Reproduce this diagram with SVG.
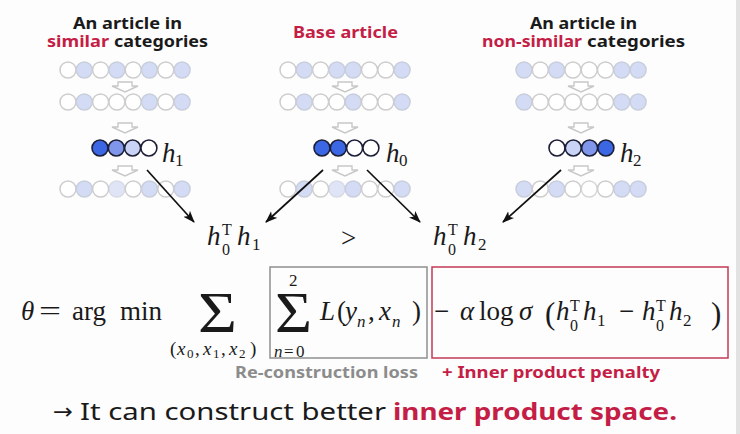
<svg xmlns="http://www.w3.org/2000/svg" width="740" height="434" viewBox="0 0 740 434">
<style>
.ttl{font-family:"Noto Sans","DejaVu Sans",sans-serif;font-weight:bold;font-size:16px;fill:#1a1a1a}
.m{font-family:"Liberation Serif","DejaVu Serif",serif;font-size:27px;fill:#1a1a1a}
.i{font-style:italic}
.s{font-size:17px}
.s2{font-size:19px}
.ss{font-size:13px}
.sm{font-size:16px}
.big{font-size:56px}
.par{font-size:31px}
.hl1{font-size:27px}
.c0{fill:#ffffff;stroke:#cdcdcd;stroke-width:1.5}
.c1{fill:#d3dbf5;stroke:#c9cedc;stroke-width:1.5}
.hd{fill:#3b66e4;stroke:#1c1f36;stroke-width:1.6}
.hm{fill:#7f96ea;stroke:#1c1f36;stroke-width:1.6}
.hl{fill:#c9d3f5;stroke:#1c1f36;stroke-width:1.6}
.hw{fill:#ffffff;stroke:#1c1f36;stroke-width:1.6}
.da{fill:#ffffff;stroke:#c8c8c8;stroke-width:1.4}
.con{stroke:#111;stroke-width:1.7;fill:none;marker-end:url(#ah)}
.bt{font-family:"Noto Sans","Open Sans",sans-serif;font-size:24px;fill:#1a1a1a}
.arr{font-family:"DejaVu Sans",sans-serif;font-size:22px}
.b{font-weight:bold}
.red{fill:#c41e46}
.gry{fill:#8c8c8c}
</style>
<defs>
<marker id="ah" viewBox="0 0 12 10" refX="11" refY="5" markerWidth="12" markerHeight="10" markerUnits="userSpaceOnUse" orient="auto">
<path d="M0,0.5 L12,5 L0,9.5 L3,5 z" fill="#111"/>
</marker>
<path id="darr" class="da" d="M-7,0 h14 v4 h6 l-13,6 l-13,-6 h6 z"/>
</defs>
<rect x="0" y="0" width="740" height="434" fill="#fdfdfd"/>
<rect x="736" y="0" width="4" height="434" fill="#e2e2e2"/>

<g id="title-similar">
<text class="ttl" x="73" y="29" textLength="109" lengthAdjust="spacingAndGlyphs">An article in</text>
<text class="ttl red" x="47" y="47" textLength="62" lengthAdjust="spacingAndGlyphs">similar</text>
<text class="ttl" x="114" y="47" textLength="94" lengthAdjust="spacingAndGlyphs">categories</text>
</g>
<g id="title-base">
<text class="ttl red" x="293" y="38" textLength="105" lengthAdjust="spacingAndGlyphs">Base article</text>
</g>
<g id="title-nonsimilar">
<text class="ttl" x="530" y="29" textLength="107" lengthAdjust="spacingAndGlyphs">An article in</text>
<text class="ttl red" x="482" y="47" textLength="100" lengthAdjust="spacingAndGlyphs">non-similar</text>
<text class="ttl" x="587" y="47" textLength="98" lengthAdjust="spacingAndGlyphs">categories</text>
</g>

<g id="net-similar">
<g>
<circle class="c0" cx="68" cy="70" r="8"/><circle class="c1" cx="84.3" cy="70" r="8"/><circle class="c0" cx="100.6" cy="70" r="8"/><circle class="c1" cx="116.9" cy="70" r="8"/><circle class="c0" cx="133.2" cy="70" r="8"/><circle class="c1" cx="149.5" cy="70" r="8"/><circle class="c0" cx="165.8" cy="70" r="8"/><circle class="c1" cx="182.1" cy="70" r="8"/>
</g>
<use href="#darr" x="125" y="82"/>
<g>
<circle class="c0" cx="68" cy="102" r="8"/><circle class="c1" cx="84.3" cy="102" r="8"/><circle class="c0" cx="100.6" cy="102" r="8"/><circle class="c0" cx="116.9" cy="102" r="8"/><circle class="c0" cx="133.2" cy="102" r="8"/><circle class="c1" cx="149.5" cy="102" r="8"/><circle class="c0" cx="165.8" cy="102" r="8"/><circle class="c1" cx="182.1" cy="102" r="8"/>
</g>
<use href="#darr" x="125" y="123"/>
<g>
<circle class="hd" cx="100" cy="148" r="8"/><circle class="hm" cx="116.3" cy="148" r="8"/><circle class="hl" cx="132.6" cy="148" r="8"/><circle class="hw" cx="148.9" cy="148" r="8"/>
</g>
<text class="m i hl1" x="162" y="162">h</text><text class="m s" x="175" y="166">1</text>
<use href="#darr" x="125" y="166"/>
<g>
<circle class="c0" cx="68" cy="189" r="8"/><circle class="c1" cx="84.3" cy="189" r="8"/><circle class="c0" cx="100.6" cy="189" r="8"/><circle class="c1" cx="116.9" cy="189" r="8" opacity="0.7"/><circle class="c0" cx="133.2" cy="189" r="8"/><circle class="c1" cx="149.5" cy="189" r="8"/><circle class="c0" cx="165.8" cy="189" r="8"/><circle class="c1" cx="182.1" cy="189" r="8"/>
</g>
</g>

<g id="net-base">
<g>
<circle class="c0" cx="288" cy="70" r="8"/><circle class="c1" cx="304.3" cy="70" r="8"/><circle class="c0" cx="320.6" cy="70" r="8"/><circle class="c1" cx="336.9" cy="70" r="8"/><circle class="c1" cx="353.2" cy="70" r="8"/><circle class="c0" cx="369.5" cy="70" r="8"/><circle class="c0" cx="385.8" cy="70" r="8"/><circle class="c1" cx="402.1" cy="70" r="8"/>
</g>
<use href="#darr" x="345" y="82"/>
<g>
<circle class="c0" cx="288" cy="102" r="8"/><circle class="c1" cx="304.3" cy="102" r="8"/><circle class="c0" cx="320.6" cy="102" r="8"/><circle class="c0" cx="336.9" cy="102" r="8"/><circle class="c1" cx="353.2" cy="102" r="8"/><circle class="c0" cx="369.5" cy="102" r="8"/><circle class="c0" cx="385.8" cy="102" r="8"/><circle class="c1" cx="402.1" cy="102" r="8"/>
</g>
<use href="#darr" x="345" y="123"/>
<g>
<circle class="hd" cx="322" cy="148" r="8"/><circle class="hd" cx="338.3" cy="148" r="8"/><circle class="hw" cx="354.6" cy="148" r="8"/><circle class="hw" cx="370.9" cy="148" r="8"/>
</g>
<text class="m i hl1" x="386" y="162">h</text><text class="m s" x="399" y="166">0</text>
<use href="#darr" x="345" y="166"/>
<g>
<circle class="c0" cx="288" cy="189" r="8"/><circle class="c1" cx="304.3" cy="189" r="8"/><circle class="c0" cx="320.6" cy="189" r="8"/><circle class="c1" cx="336.9" cy="189" r="8" opacity="0.7"/><circle class="c1" cx="353.2" cy="189" r="8"/><circle class="c0" cx="369.5" cy="189" r="8"/><circle class="c0" cx="385.8" cy="189" r="8"/><circle class="c1" cx="402.1" cy="189" r="8"/>
</g>
</g>

<g id="net-nonsimilar">
<g>
<circle class="c1" cx="524" cy="70" r="8"/><circle class="c0" cx="540.3" cy="70" r="8"/><circle class="c1" cx="556.6" cy="70" r="8"/><circle class="c0" cx="572.9" cy="70" r="8"/><circle class="c0" cx="589.2" cy="70" r="8"/><circle class="c0" cx="605.5" cy="70" r="8"/><circle class="c1" cx="621.8" cy="70" r="8"/><circle class="c1" cx="638.1" cy="70" r="8"/>
</g>
<use href="#darr" x="581" y="82"/>
<g>
<circle class="c1" cx="524" cy="102" r="8"/><circle class="c0" cx="540.3" cy="102" r="8"/><circle class="c0" cx="556.6" cy="102" r="8"/><circle class="c0" cx="572.9" cy="102" r="8"/><circle class="c0" cx="589.2" cy="102" r="8"/><circle class="c0" cx="605.5" cy="102" r="8"/><circle class="c1" cx="621.8" cy="102" r="8"/><circle class="c1" cx="638.1" cy="102" r="8"/>
</g>
<use href="#darr" x="581" y="123"/>
<g>
<circle class="hw" cx="557" cy="148" r="8"/><circle class="hl" cx="573.3" cy="148" r="8"/><circle class="hm" cx="589.6" cy="148" r="8"/><circle class="hd" cx="605.9" cy="148" r="8"/>
</g>
<text class="m i hl1" x="620" y="162">h</text><text class="m s" x="633" y="166">2</text>
<use href="#darr" x="581" y="166"/>
<g>
<circle class="c1" cx="524" cy="189" r="8"/><circle class="c0" cx="540.3" cy="189" r="8"/><circle class="c1" cx="556.6" cy="189" r="8"/><circle class="c0" cx="572.9" cy="189" r="8"/><circle class="c0" cx="589.2" cy="189" r="8" opacity="0.8"/><circle class="c0" cx="605.5" cy="189" r="8"/><circle class="c1" cx="621.8" cy="189" r="8"/><circle class="c1" cx="638.1" cy="189" r="8"/>
</g>
</g>

<g id="connectors">
<line class="con" x1="147" y1="170" x2="194" y2="222"/>
<line class="con" x1="323" y1="170" x2="266" y2="222"/>
<line class="con" x1="367" y1="170" x2="420" y2="222"/>
<line class="con" x1="561" y1="170" x2="503" y2="222"/>
</g>

<g id="inner-h0h1">
<text class="m i" x="207" y="245">h</text>
<text class="m sm" x="222" y="235">T</text>
<text class="m sm" x="222" y="255">0</text>
<text class="m i" x="237" y="245">h</text>
<text class="m s" x="252" y="250">1</text>
</g>
<g id="gt">
<text class="m" x="341" y="247">&gt;</text>
</g>
<g id="inner-h0h2">
<text class="m i" x="433" y="245">h</text>
<text class="m sm" x="448" y="235">T</text>
<text class="m sm" x="448" y="255">0</text>
<text class="m i" x="463" y="245">h</text>
<text class="m s" x="478" y="250">2</text>
</g>

<g id="formula">
<text class="m i" x="21" y="320">θ</text>
<text class="m" x="39" y="320" textLength="22" lengthAdjust="spacingAndGlyphs">=</text>
<text class="m" x="72" y="320">arg</text>
<text class="m" x="120" y="320">min</text>
<text class="m big" x="198" y="332" textLength="39" lengthAdjust="spacingAndGlyphs">Σ</text>
<text class="m s2" x="170" y="355">(</text>
<text class="m s2 i" x="177" y="355">x</text><text class="m ss" x="187" y="358">0</text>
<text class="m s2" x="195" y="355">,</text>
<text class="m s2 i" x="203" y="355">x</text><text class="m ss" x="213" y="358">1</text>
<text class="m s2" x="221" y="355">,</text>
<text class="m s2 i" x="229" y="355">x</text><text class="m ss" x="239" y="358">2</text>
<text class="m s2" x="250" y="355">)</text>
</g>

<g id="reconstruction-box">
<rect x="270" y="267" width="157" height="91" fill="none" stroke="#8f8f8f" stroke-width="1.5"/>
<text class="m big" x="275" y="332" textLength="37" lengthAdjust="spacingAndGlyphs">Σ</text>
<text class="m s" x="289" y="286">2</text>
<text class="m s i" x="274" y="357">n</text>
<text class="m s" x="284" y="357">=</text>
<text class="m s" x="296" y="357">0</text>
<text class="m i" x="320" y="320">L</text>
<text class="m" x="337" y="320">(</text>
<text class="m i" x="345" y="320">y</text>
<text class="m s i" x="357" y="327">n</text>
<text class="m" x="368" y="320">,</text>
<text class="m i" x="379" y="320">x</text>
<text class="m s i" x="392" y="327">n</text>
<text class="m" x="412" y="320">)</text>
<text class="ttl gry" x="235" y="378" textLength="183" lengthAdjust="spacingAndGlyphs">Re-construction loss</text>
</g>

<g id="penalty-box">
<rect x="432" y="267" width="296" height="91" fill="none" stroke="#c23a56" stroke-width="1.5"/>
<text class="m" x="434" y="320">−</text>
<text class="m i" x="460" y="320">α</text>
<text class="m" x="479" y="320">log</text>
<text class="m i" x="519" y="320">σ</text>
<text class="m par" x="545" y="324">(</text>
<text class="m i" x="556" y="320">h</text>
<text class="m sm" x="570" y="311">T</text>
<text class="m sm" x="570" y="331">0</text>
<text class="m i" x="583" y="320">h</text>
<text class="m s" x="597" y="326">1</text>
<text class="m" x="619" y="320">−</text>
<text class="m i" x="642" y="320">h</text>
<text class="m sm" x="656" y="311">T</text>
<text class="m sm" x="656" y="331">0</text>
<text class="m i" x="669" y="320">h</text>
<text class="m s" x="683" y="326">2</text>
<text class="m par" x="711" y="324">)</text>
<text class="ttl red" x="442" y="378" textLength="218" lengthAdjust="spacingAndGlyphs">+ Inner product penalty</text>
</g>

<g id="conclusion">
<text class="bt arr" x="53" y="419" textLength="20" lengthAdjust="spacingAndGlyphs">→</text>
<text class="bt" x="80" y="420" textLength="306" lengthAdjust="spacingAndGlyphs">It can construct better</text>
<text class="bt b red" x="393" y="420" textLength="284" lengthAdjust="spacingAndGlyphs">inner product space.</text>
</g>
</svg>
